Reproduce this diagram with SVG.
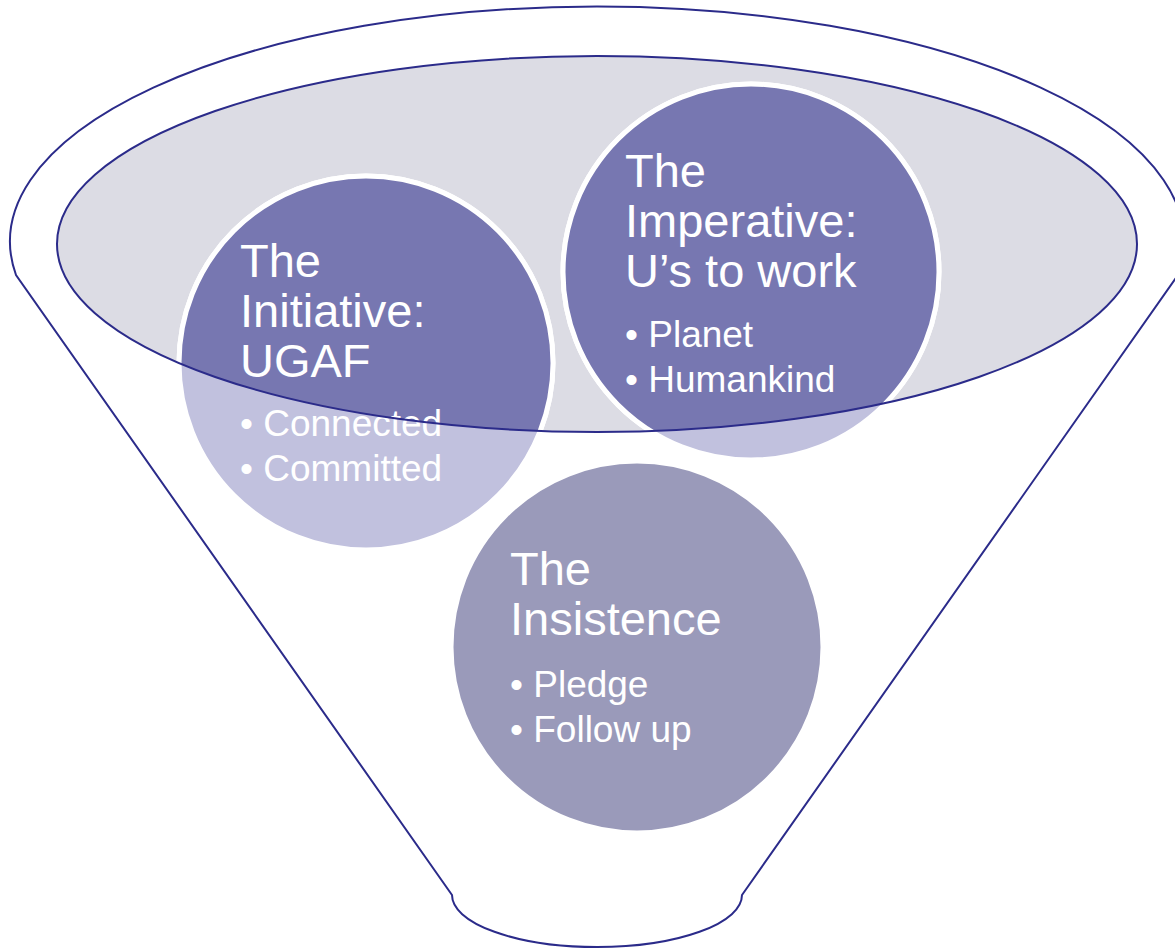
<svg xmlns="http://www.w3.org/2000/svg" width="1175" height="948" viewBox="0 0 1175 948">
<defs>
<style>
.outline{fill:none;stroke:#2b2b8a;stroke-width:2}
.light{fill:#c1c1de;stroke:#ffffff;stroke-width:5}
.dark{fill:#7777b1;stroke:#ffffff;stroke-width:5}
.ins{fill:#9a9aba;stroke:#ffffff;stroke-width:5}
.title{font-family:"Liberation Sans",Arial,sans-serif;font-size:47px;fill:#ffffff}
.bullet{font-family:"Liberation Sans",Arial,sans-serif;font-size:37px;fill:#ffffff}
</style>
<clipPath id="inner">
<ellipse cx="597" cy="244" rx="540" ry="188"/>
</clipPath>
</defs>
<rect width="1175" height="948" fill="#ffffff"/>
<g id="funnel">
<path class="outline" d="M16,275 A587,235 0 1 1 1178,275 L742,895 A145,52 0 0 1 452,895 Z"/>
<ellipse cx="597" cy="244" rx="540" ry="188" fill="#dcdce4"/>
</g>
<g id="initiative">
<circle class="light" cx="366" cy="363" r="187"/>
<circle class="dark" cx="366" cy="363" r="187" clip-path="url(#inner)"/>
<text class="title" x="240" y="277">The</text>
<text class="title" x="240" y="327">Initiative:</text>
<text class="title" x="240" y="377">UGAF</text>
<text class="bullet" x="240" y="436">• Connected</text>
<text class="bullet" x="240" y="481">• Committed</text>
</g>
<g id="imperative">
<circle class="light" cx="751" cy="272" r="188"/>
<circle class="dark" cx="751" cy="272" r="188" clip-path="url(#inner)"/>
<text class="title" x="625" y="187">The</text>
<text class="title" x="625" y="237">Imperative:</text>
<text class="title" x="625" y="287">U’s to work</text>
<text class="bullet" x="625" y="347">• Planet</text>
<text class="bullet" x="625" y="392">• Humankind</text>
</g>
<g id="insistence">
<circle class="ins" cx="637" cy="647" r="186"/>
<text class="title" x="510" y="585">The</text>
<text class="title" x="510" y="635">Insistence</text>
<text class="bullet" x="510" y="697">• Pledge</text>
<text class="bullet" x="510" y="742">• Follow up</text>
</g>
<g id="connectors">
<ellipse class="outline" cx="597" cy="244" rx="540" ry="188"/>
</g>
</svg>
